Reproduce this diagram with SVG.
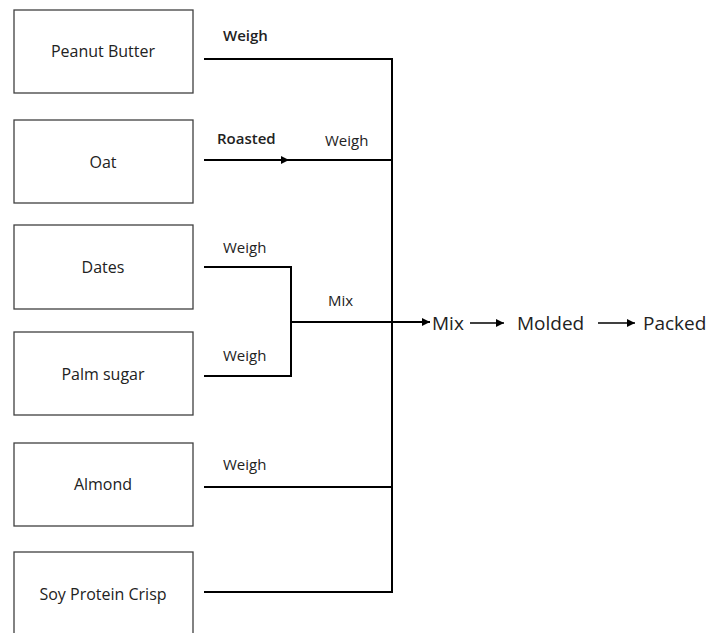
<svg xmlns="http://www.w3.org/2000/svg" width="708" height="633" viewBox="0 0 708 633">
<defs>
<style>
.box{fill:#fff;stroke:#404040;stroke-width:1.3}
.lbl{font-family:"Open Sans","Noto Sans",sans-serif;font-size:16px;fill:#222;text-anchor:middle}
.step{font-family:"Open Sans","Noto Sans",sans-serif;font-size:15px;fill:#222}
.bold{font-weight:600}
.big{font-family:"Open Sans","Noto Sans",sans-serif;font-size:19px;fill:#222}
.ln{fill:none;stroke:#000;stroke-width:2}
.arr{fill:none;stroke:#000;stroke-width:1.6}
</style>
<marker id="ah" markerWidth="8" markerHeight="8" viewBox="0 0 10 10" refX="10" refY="5" orient="auto" markerUnits="userSpaceOnUse">
<path d="M0,0 L10,5 L0,10 z" fill="#000"/>
</marker>
</defs>
<rect width="708" height="633" fill="#fff"/>
<g id="n-peanut"><rect class="box" x="14" y="10" width="179" height="83"/><text class="lbl" x="103" y="57">Peanut Butter</text></g>
<g id="n-oat"><rect class="box" x="14" y="120" width="179" height="83"/><text class="lbl" x="103" y="168">Oat</text></g>
<g id="n-dates"><rect class="box" x="14" y="225" width="179" height="84"/><text class="lbl" x="103" y="273">Dates</text></g>
<g id="n-palm"><rect class="box" x="14" y="332" width="179" height="83"/><text class="lbl" x="103" y="380">Palm sugar</text></g>
<g id="n-almond"><rect class="box" x="14" y="443" width="179" height="83"/><text class="lbl" x="103" y="490">Almond</text></g>
<g id="n-soy"><rect class="box" x="14" y="552" width="179" height="90"/><text class="lbl" x="103" y="600">Soy Protein Crisp</text></g>
<g id="connectors">
<path class="ln" d="M204,59 H392 V592 H204"/>
<path class="ln" d="M204,160 H392"/>
<path class="ln" d="M204,487 H392"/>
<path class="ln" d="M204,267 H291 V376 H204"/>
<path class="ln" d="M291,322 H430" marker-end="url(#ah)"/>
<path class="arr" d="M204,160 H289" marker-end="url(#ah)"/>
<path class="arr" d="M470,323 H504" marker-end="url(#ah)"/>
<path class="arr" d="M598,323 H635" marker-end="url(#ah)"/>
</g>
<g id="labels">
<text class="step bold" x="223" y="41">Weigh</text>
<text class="step bold" x="217" y="144">Roasted</text>
<text class="step" x="325" y="146">Weigh</text>
<text class="step" x="223" y="253">Weigh</text>
<text class="step" x="328" y="306">Mix</text>
<text class="step" x="223" y="361">Weigh</text>
<text class="step" x="223" y="470">Weigh</text>
</g>
<g id="n-mix"><text class="big" x="432" y="330">Mix</text></g>
<g id="n-molded"><text class="big" x="517" y="330">Molded</text></g>
<g id="n-packed"><text class="big" x="643" y="330">Packed</text></g>
</svg>
